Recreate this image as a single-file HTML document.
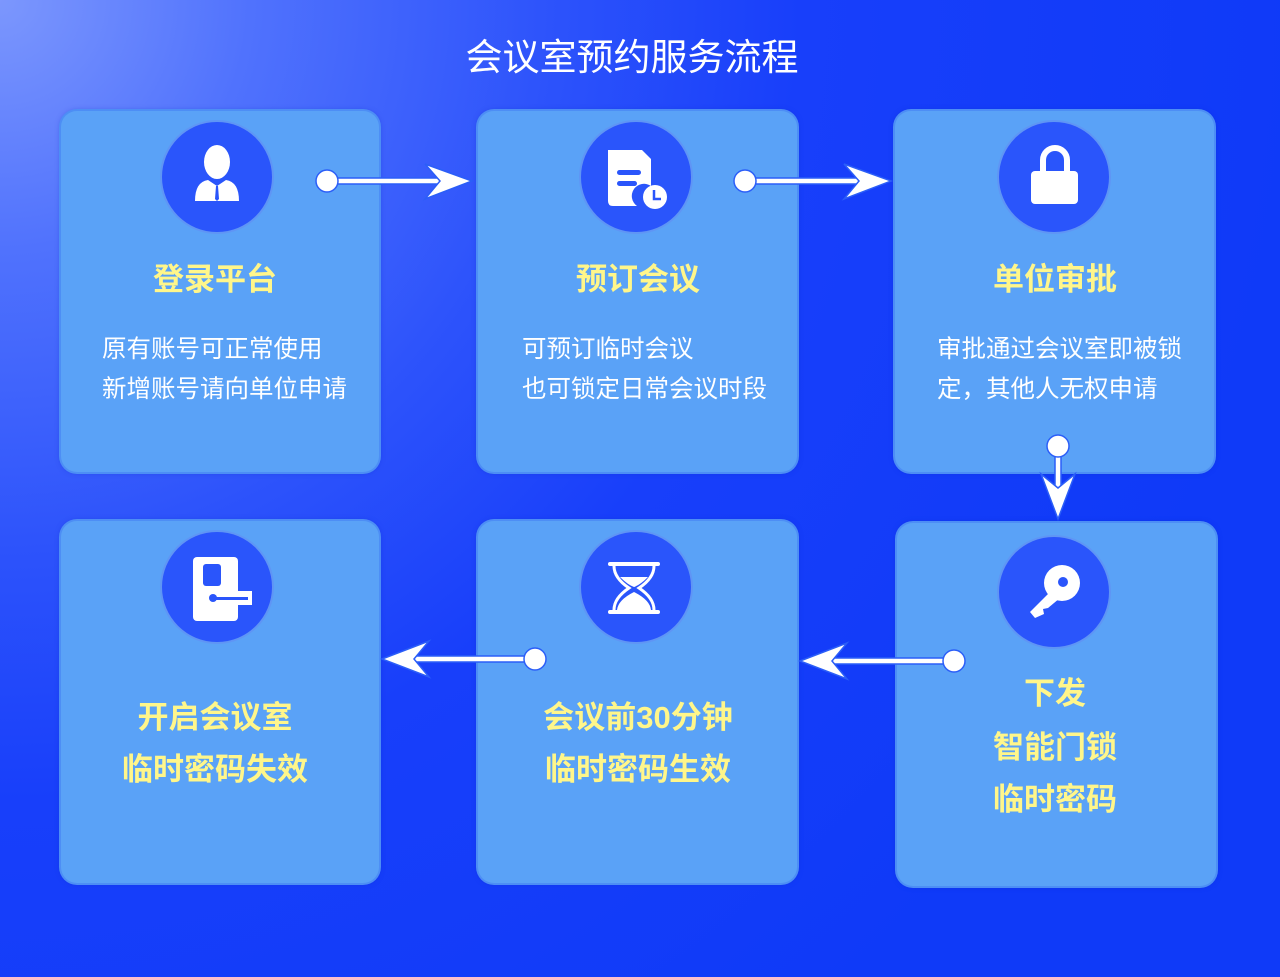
<!DOCTYPE html>
<html><head><meta charset="utf-8">
<style>
html,body{margin:0;padding:0}
body{width:1280px;height:977px;position:relative;overflow:hidden;
background:radial-gradient(circle at 0 0,#7c97fd 0,#5072fd 250px,#2d53fb 550px,#183ffa 800px,#0f3af8 1300px);
font-family:"Liberation Sans","Noto Sans CJK SC",sans-serif}
.title{position:absolute;left:0;width:1264px;top:34px;text-align:center;color:#fff;font-size:37px;line-height:48px}
.card{position:absolute;background:#5aa2f7;border-radius:16px;box-shadow:0 0 0 2px #4d8ef5,0 0 6px rgba(0,40,200,.5)}
.circ{position:absolute;width:110px;height:110px;border-radius:50%;background:#2a55fb;box-shadow:0 0 0 2px #5f95f5}
.h{position:absolute;color:#fff68a;font-weight:bold;font-size:31px;text-align:center;width:320px;line-height:34px}
.t{position:absolute;color:#fff;font-size:24.5px;line-height:40px;white-space:nowrap}
svg{position:absolute;left:0;top:0}
</style></head><body>
<div class="title">会议室预约服务流程</div>

<div class="card" style="left:61px;top:111px;width:318px;height:361px"></div>
<div class="card" style="left:478px;top:111px;width:319px;height:361px"></div>
<div class="card" style="left:895px;top:111px;width:319px;height:361px"></div>
<div class="card" style="left:61px;top:521px;width:318px;height:362px"></div>
<div class="card" style="left:478px;top:521px;width:319px;height:362px"></div>
<div class="card" style="left:897px;top:523px;width:319px;height:363px"></div>

<div class="circ" style="left:162px;top:122px"></div>
<div class="circ" style="left:581px;top:122px"></div>
<div class="circ" style="left:999px;top:122px"></div>
<div class="circ" style="left:162px;top:532px"></div>
<div class="circ" style="left:581px;top:532px"></div>
<div class="circ" style="left:999px;top:537px"></div>

<div class="h" style="left:55px;top:263px">登录平台</div>
<div class="h" style="left:478px;top:263px">预订会议</div>
<div class="h" style="left:895px;top:263px">单位审批</div>
<div class="t" style="left:102px;top:330px">原有账号可正常使用<br>新增账号请向单位申请</div>
<div class="t" style="left:522px;top:330px">可预订临时会议<br>也可锁定日常会议时段</div>
<div class="t" style="left:937px;top:330px">审批通过会议室即被锁<br>定，其他人无权申请</div>

<div class="h" style="left:55px;top:701px">开启会议室</div>
<div class="h" style="left:55px;top:753px">临时密码失效</div>
<div class="h" style="left:478px;top:701px">会议前30分钟</div>
<div class="h" style="left:478px;top:753px">临时密码生效</div>
<div class="h" style="left:895px;top:677px">下发</div>
<div class="h" style="left:895px;top:731px">智能门锁</div>
<div class="h" style="left:895px;top:783px">临时密码</div>

<svg width="1280" height="977" viewBox="0 0 1280 977">
<g fill="#fff" stroke="#2b5ef8" stroke-width="1.5">
 <rect x="327" y="178" width="120" height="6"/>
 <path d="M472 181 L425 164 L440 181 L425 199 Z"/>
 <circle cx="327" cy="181" r="11"/>
 <rect x="745" y="178" width="120" height="6"/>
 <path d="M891 181 L844 164 L859 181 L844 199 Z"/>
 <circle cx="745" cy="181" r="11"/>
 <rect x="1055" y="446" width="6" height="50"/>
 <path d="M1058 519 L1041 474 L1058 488 L1075 474 Z"/>
 <circle cx="1058" cy="446" r="11"/>
 <rect x="830" y="658" width="124" height="6"/>
 <path d="M800 661 L847 643 L832 661 L847 679 Z"/>
 <circle cx="954" cy="661" r="11"/>
 <rect x="410" y="656" width="125" height="6"/>
 <path d="M382 659 L429 641 L414 659 L429 677 Z"/>
 <circle cx="535" cy="659" r="11"/>
</g>
<g fill="#fff">
 <ellipse cx="217" cy="162" rx="13" ry="17"/>
 <path d="M195 201 Q195 182 208 180 L217 186 L226 180 Q239 182 239 201 Z"/>
 <path d="M216 186 L218 186 L219 199 L217 201 L215 199 Z" fill="#2a55fb"/>
 <path d="M608 150 L642 150 L651 159 L651 186 A12 12 0 0 0 637 206 L613 206 Q608 206 608 201 Z"/>
 <rect x="617" y="170" width="24" height="5" rx="2.5" fill="#2a55fb"/>
 <rect x="617" y="181" width="20" height="5" rx="2.5" fill="#2a55fb"/>
 <circle cx="655" cy="197" r="12"/>
 <path d="M654 190 V199 H661" stroke="#2a55fb" stroke-width="2.5" fill="none"/>
 <path d="M1043 172 V160 A12 12 0 0 1 1067 160 V172" stroke="#fff" stroke-width="6" fill="none"/>
 <rect x="1031" y="171" width="47" height="33" rx="4"/>
 <rect x="193" y="557" width="45" height="64" rx="4"/>
 <rect x="203" y="564" width="18" height="22" rx="3" fill="#2a55fb"/>
 <rect x="236" y="591" width="16" height="14"/>
 <rect x="214" y="597" width="34" height="3" fill="#2a55fb"/>
 <circle cx="213" cy="598" r="4" fill="#2a55fb"/>
 <rect x="608" y="562" width="52" height="4" rx="2"/>
 <rect x="608" y="610" width="52" height="4" rx="2"/>
 <path d="M614 566 Q614 578 629 588 Q614 598 614 610 M654 566 Q654 578 639 588 Q654 598 654 610" stroke="#fff" stroke-width="3" fill="none"/>
 <path d="M620 577 L648 577 Q640 585 634 587 Q628 585 620 577 Z"/>
 <path d="M617 610 Q618 600 634 592 Q650 600 651 610 Z"/>
 <circle cx="1062" cy="583" r="18"/>
 <circle cx="1063" cy="582" r="5" fill="#2a55fb"/>
 <path d="M1050 592 L1030 612 L1035 618 L1044 614 L1043 609 L1048 608 L1060 598 Z"/>
</g>
</svg>
</body></html>
